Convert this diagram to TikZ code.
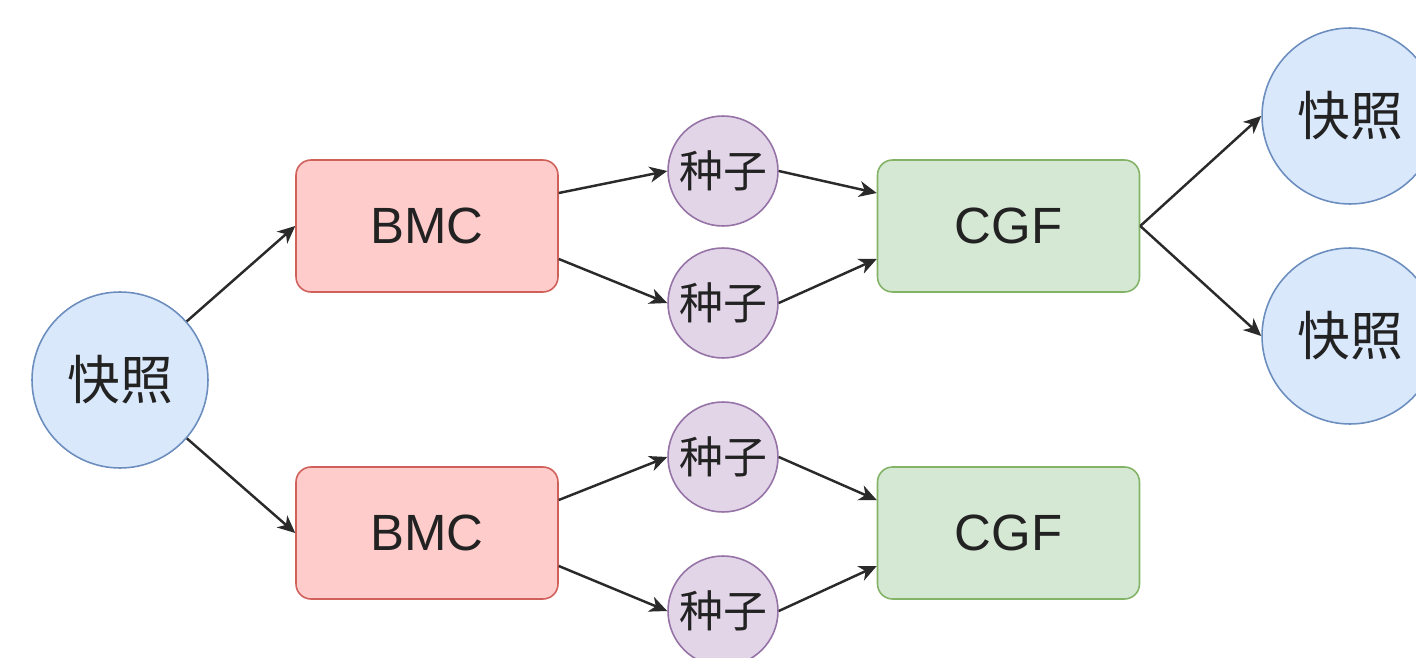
\documentclass[tikz,border=0pt]{standalone}
\usepackage{fontspec}
\setmainfont{Liberation Sans}
\newfontfamily\cjk{Noto Sans CJK SC}
\usetikzlibrary{arrows.meta,calc}

\definecolor{snapfill}{HTML}{DAE8FC}
\definecolor{snapline}{HTML}{6C8EBF}
\definecolor{bmcfill}{HTML}{FFCCCC}
\definecolor{bmcline}{HTML}{D0605A}
\definecolor{seedfill}{HTML}{E1D5E7}
\definecolor{seedline}{HTML}{9673A6}
\definecolor{cgffill}{HTML}{D5E8D4}
\definecolor{cgfline}{HTML}{82B366}
\definecolor{inkcol}{HTML}{222222}
\definecolor{wirecol}{HTML}{2A2A2A}

\tikzset{
  snapnode/.style={circle, draw=snapline, fill=snapfill, line width=0.9pt,
    minimum size=3.52cm, inner sep=0pt, text=inkcol,
    font=\cjk\fontsize{30}{30}\selectfont},
  seednode/.style={circle, draw=seedline, fill=seedfill, line width=0.9pt,
    minimum size=2.2cm, inner sep=0pt, text=inkcol,
    font=\cjk\fontsize{25}{25}\selectfont},
  boxnode/.style={rectangle, rounded corners=0.3cm, line width=0.9pt,
    minimum width=5.24cm, minimum height=2.64cm, inner sep=0pt, text=inkcol,
    font=\fontsize{29}{29}\selectfont},
  bmcnode/.style={boxnode, draw=bmcline, fill=bmcfill},
  cgfnode/.style={boxnode, draw=cgfline, fill=cgffill},
  link/.style={draw=wirecol, line width=1.4pt,
    -{Stealth[length=10pt, width=9pt, inset=3pt]}}
}

\begin{document}
\begin{tikzpicture}[x=0.02cm, y=-0.02cm]
  \useasboundingbox (0,0) rectangle (1416,658);
  \clip (0,0) rectangle (1416,658);

  % source snapshot
  \node[snapnode] (src) at (120,380) {快照};

  % upper branch
  \node[bmcnode] (bmcA) at (427,226) {BMC};
  \node[seednode] (seedA1) at (723,171) {种子};
  \node[seednode] (seedA2) at (723,303) {种子};
  \node[cgfnode] (cgfA) at (1008.5,226) {CGF};
  \node[snapnode] (outA1) at (1350,116) {快照};
  \node[snapnode] (outA2) at (1350,336) {快照};

  % lower branch
  \node[bmcnode] (bmcB) at (427,533) {BMC};
  \node[seednode] (seedB1) at (723,457) {种子};
  \node[seednode] (seedB2) at (723,611) {种子};
  \node[cgfnode] (cgfB) at (1008.5,533) {CGF};

  % connectors
  \draw[link] (src) -- (bmcA.west);
  \draw[link] (src) -- (bmcB.west);

  \draw[link] ([yshift=0.66cm]bmcA.east) -- (seedA1.west);
  \draw[link] ([yshift=-0.66cm]bmcA.east) -- (seedA2.west);
  \draw[link] (seedA1.east) -- ([yshift=0.66cm]cgfA.west);
  \draw[link] (seedA2.east) -- ([yshift=-0.66cm]cgfA.west);
  \draw[link] (cgfA.east) -- (outA1.west);
  \draw[link] (cgfA.east) -- (outA2.west);

  \draw[link] ([yshift=0.66cm]bmcB.east) -- (seedB1.west);
  \draw[link] ([yshift=-0.66cm]bmcB.east) -- (seedB2.west);
  \draw[link] (seedB1.east) -- ([yshift=0.66cm]cgfB.west);
  \draw[link] (seedB2.east) -- ([yshift=-0.66cm]cgfB.west);
\end{tikzpicture}
\end{document}
